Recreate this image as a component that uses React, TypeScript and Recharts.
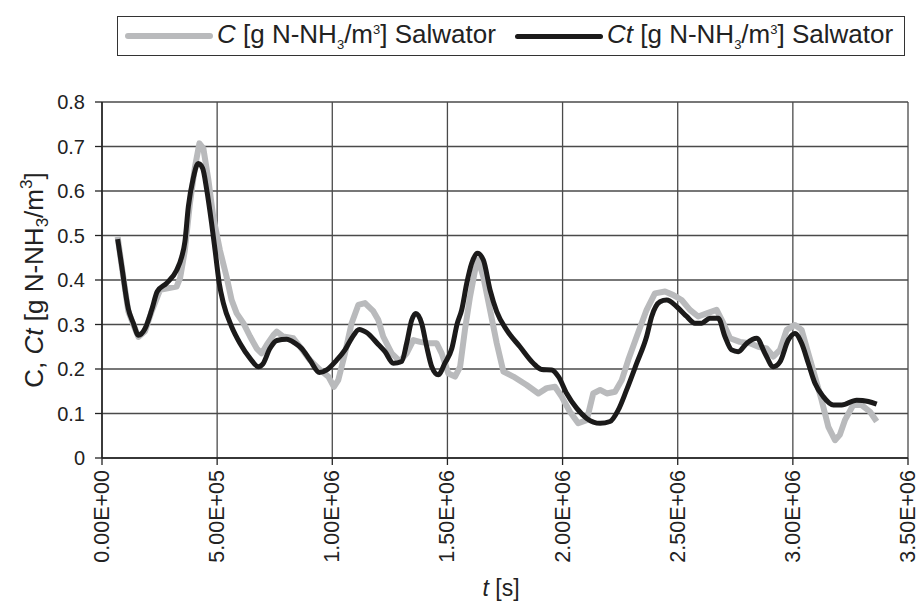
import React from "react";
import { LineChart, Line, XAxis, YAxis, CartesianGrid } from "recharts";

// C [g N-NH3/m3] Salwator (grey)
const cTimes = [68000, 86000, 114000, 136000, 158000, 187000, 216000, 252000, 324000, 339000, 360000, 382000, 404000, 423000, 440000, 462000, 483000, 512000, 541000, 563000, 585000, 614000, 643000, 672000, 693000, 715000, 744000, 759000, 787000, 831000, 860000, 903000, 947000, 983000, 1007000, 1026000, 1055000, 1084000, 1113000, 1142000, 1178000, 1200000, 1221000, 1258000, 1294000, 1323000, 1352000, 1381000, 1417000, 1453000, 1475000, 1504000, 1533000, 1555000, 1576000, 1598000, 1620000, 1634000, 1656000, 1685000, 1714000, 1743000, 1786000, 1844000, 1895000, 1931000, 1967000, 1996000, 2032000, 2068000, 2105000, 2133000, 2163000, 2192000, 2228000, 2257000, 2285000, 2322000, 2365000, 2401000, 2445000, 2481000, 2517000, 2553000, 2589000, 2626000, 2669000, 2698000, 2727000, 2770000, 2814000, 2850000, 2886000, 2915000, 2944000, 2973000, 3009000, 3038000, 3067000, 3096000, 3125000, 3154000, 3183000, 3204000, 3226000, 3262000, 3299000, 3335000, 3364000];
const cValues = [0.497, 0.43, 0.33, 0.3, 0.272, 0.285, 0.33, 0.378, 0.385, 0.404, 0.467, 0.573, 0.655, 0.707, 0.696, 0.625, 0.542, 0.467, 0.407, 0.355, 0.325, 0.303, 0.273, 0.246, 0.235, 0.254, 0.276, 0.284, 0.273, 0.269, 0.25, 0.22, 0.198, 0.183, 0.16, 0.175, 0.235, 0.303, 0.344, 0.348, 0.33, 0.31, 0.273, 0.235, 0.217, 0.235, 0.265, 0.261, 0.258, 0.258, 0.235, 0.19, 0.183, 0.205, 0.288, 0.362, 0.422, 0.445, 0.407, 0.333, 0.258, 0.194, 0.183, 0.164, 0.145, 0.157, 0.16, 0.138, 0.104, 0.078, 0.085, 0.145, 0.153, 0.145, 0.149, 0.175, 0.22, 0.273, 0.333, 0.37, 0.374, 0.366, 0.355, 0.333, 0.318, 0.325, 0.333, 0.303, 0.269, 0.261, 0.258, 0.25, 0.246, 0.228, 0.243, 0.288, 0.299, 0.288, 0.235, 0.183, 0.13, 0.07, 0.04, 0.052, 0.085, 0.119, 0.119, 0.104, 0.082];

// Ct [g N-NH3/m3] Salwator (black)
const ctTimes = [68000, 86000, 114000, 136000, 158000, 187000, 216000, 240000, 281000, 324000, 346000, 360000, 375000, 396000, 418000, 437000, 455000, 476000, 491000, 509000, 527000, 563000, 599000, 643000, 679000, 698000, 729000, 759000, 802000, 838000, 867000, 903000, 944000, 976000, 1019000, 1055000, 1084000, 1117000, 1149000, 1200000, 1229000, 1265000, 1301000, 1323000, 1345000, 1363000, 1388000, 1410000, 1432000, 1460000, 1489000, 1519000, 1543000, 1562000, 1584000, 1605000, 1630000, 1656000, 1685000, 1714000, 1757000, 1815000, 1873000, 1909000, 1953000, 1982000, 2018000, 2061000, 2105000, 2163000, 2206000, 2242000, 2278000, 2322000, 2365000, 2387000, 2423000, 2452000, 2496000, 2539000, 2575000, 2604000, 2640000, 2676000, 2705000, 2734000, 2763000, 2800000, 2843000, 2879000, 2915000, 2944000, 2980000, 3009000, 3038000, 3067000, 3096000, 3132000, 3176000, 3212000, 3277000, 3328000, 3364000];
const ctValues = [0.492, 0.43, 0.336, 0.303, 0.276, 0.291, 0.333, 0.374, 0.393, 0.422, 0.452, 0.486, 0.565, 0.628, 0.662, 0.651, 0.602, 0.527, 0.467, 0.393, 0.348, 0.295, 0.258, 0.224, 0.205, 0.211, 0.246, 0.264, 0.267, 0.258, 0.246, 0.22, 0.192, 0.198, 0.22, 0.243, 0.269, 0.289, 0.282, 0.255, 0.239, 0.213, 0.217, 0.258, 0.31, 0.325, 0.303, 0.25, 0.205, 0.187, 0.213, 0.246, 0.303, 0.333, 0.393, 0.437, 0.46, 0.445, 0.378, 0.329, 0.288, 0.25, 0.213, 0.199, 0.198, 0.183, 0.145, 0.112, 0.089, 0.078, 0.082, 0.108, 0.153, 0.213, 0.273, 0.318, 0.351, 0.355, 0.34, 0.318, 0.303, 0.303, 0.314, 0.314, 0.273, 0.243, 0.239, 0.258, 0.269, 0.235, 0.205, 0.216, 0.265, 0.28, 0.258, 0.213, 0.168, 0.138, 0.119, 0.119, 0.13, 0.127, 0.121];

const xTicks = [0, 500000, 1000000, 1500000, 2000000, 2500000, 3000000, 3500000];
const xTickLabels = ["0.00E+00", "5.00E+05", "1.00E+06", "1.50E+06", "2.00E+06", "2.50E+06", "3.00E+06", "3.50E+06"];
const yTicks = [0, 0.1, 0.2, 0.3, 0.4, 0.5, 0.6, 0.7, 0.8];
const yTickLabels = ["0", "0.1", "0.2", "0.3", "0.4", "0.5", "0.6", "0.7", "0.8"];

const cData = cTimes.map((t, i) => ({ t, v: cValues[i] }));
const ctData = ctTimes.map((t, i) => ({ t, v: ctValues[i] }));

const FONT = "'Liberation Sans', Arial, sans-serif";
const GREY = "#b9babc";
const BLACK = "#1b1a1a";

const XTick = (props: any) => {
  const { x, y, payload } = props;
  const idx = xTicks.indexOf(payload.value);
  return (
    <text
      x={x}
      y={y}
      transform={`rotate(-90 ${x} ${y})`}
      textAnchor="end"
      dominantBaseline="central"
      fontFamily={FONT}
      fontSize={21.5}
      fill="#222"
    >
      {idx >= 0 ? xTickLabels[idx] : ""}
    </text>
  );
};

const YTick = (props: any) => {
  const { x, y, payload } = props;
  const idx = yTicks.findIndex((v) => Math.abs(v - payload.value) < 1e-9);
  return (
    <text x={x} y={y} textAnchor="end" dominantBaseline="central" fontFamily={FONT} fontSize={20} fill="#222">
      {idx >= 0 ? yTickLabels[idx] : ""}
    </text>
  );
};

const YLabel = (props: any) => {
  const vb = props.viewBox || {};
  const cx = 43;
  const cy = (vb.y || 0) + (vb.height || 0) / 2;
  return (
    <text
      x={cx}
      y={cy}
      transform={`rotate(-90 ${cx} ${cy})`}
      textAnchor="middle"
      fontFamily={FONT}
      fontSize={26}
      fill="#222"
    >
      <tspan>C, </tspan>
      <tspan fontStyle="italic">Ct</tspan>
      <tspan> [g N-NH</tspan>
      <tspan fontSize={17} dy={5}>3</tspan>
      <tspan dy={-5}>/m</tspan>
      <tspan fontSize={17} dy={-11}>3</tspan>
      <tspan dy={11}>]</tspan>
    </text>
  );
};

const XLabel = (props: any) => {
  const vb = props.viewBox || {};
  const cx = (vb.x || 0) + (vb.width || 0) / 2 - 4;
  return (
    <text x={cx} y={596} textAnchor="middle" fontFamily={FONT} fontSize={23} fill="#222">
      <tspan fontStyle="italic">t</tspan>
      <tspan> [s]</tspan>
    </text>
  );
};

const LegendItem = ({ color, thickness, italic, left }: { color: string; thickness: number; italic: string; left: number }) => (
  <div style={{ position: "absolute", left, top: 0, height: "100%", display: "flex", alignItems: "center" }}>
    <div style={{ width: 88, height: thickness, background: color, marginRight: 4, borderRadius: thickness / 2 }} />
    <span style={{ fontFamily: FONT, fontSize: 26, color: "#222", whiteSpace: "nowrap", lineHeight: "26px" }}>
      <i>{italic}</i> [g N-NH
      <span style={{ fontSize: 13, position: "relative", top: 6 }}>3</span>/m
      <span style={{ fontSize: 13, position: "relative", top: -9 }}>3</span>] Salwator
    </span>
  </div>
);

export default function App() {
  return (
    <div style={{ position: "relative", width: 919, height: 606, overflow: "hidden" }}>
      <style>{"html,body{margin:0;padding:0;overflow:hidden;background:#fff}"}</style>
      <div
        style={{
          position: "absolute",
          left: 117,
          top: 16,
          width: 788,
          height: 40,
          border: "1.5px solid #333",
          boxSizing: "border-box",
        }}
      >
        <LegendItem color={GREY} thickness={6} italic="C" left={7} />
        <LegendItem color={BLACK} thickness={5} italic="Ct" left={397} />
      </div>
      <LineChart width={919} height={606} margin={{ top: 102, right: 11, bottom: 0, left: 0 }}>
        <CartesianGrid stroke="#4a4a4a" strokeWidth={1.3} horizontalValues={yTicks} verticalValues={xTicks} />
        <XAxis
          dataKey="t"
          type="number"
          domain={[0, 3500000]}
          ticks={xTicks}
          interval={0}
          height={148}
          tick={<XTick />}
          tickSize={7}
          tickMargin={5}
          axisLine={{ stroke: "#222", strokeWidth: 1.5 }}
          tickLine={{ stroke: "#222", strokeWidth: 1.3 }}
          label={<XLabel />}
          allowDataOverflow
        />
        <YAxis
          type="number"
          domain={[0, 0.8]}
          ticks={yTicks}
          interval={0}
          width={102}
          tick={<YTick />}
          tickSize={7}
          tickMargin={10}
          axisLine={{ stroke: "#222", strokeWidth: 1.5 }}
          tickLine={{ stroke: "#222", strokeWidth: 1.3 }}
          label={<YLabel />}
        />
        <Line
          data={cData}
          dataKey="v"
          type="linear"
          stroke={GREY}
          strokeWidth={6}
          dot={false}
          isAnimationActive={false}
          strokeLinejoin="round"
        />
        <Line
          data={ctData}
          dataKey="v"
          type="monotone"
          stroke={BLACK}
          strokeWidth={5}
          dot={false}
          isAnimationActive={false}
          strokeLinejoin="round"
        />
      </LineChart>
    </div>
  );
}
